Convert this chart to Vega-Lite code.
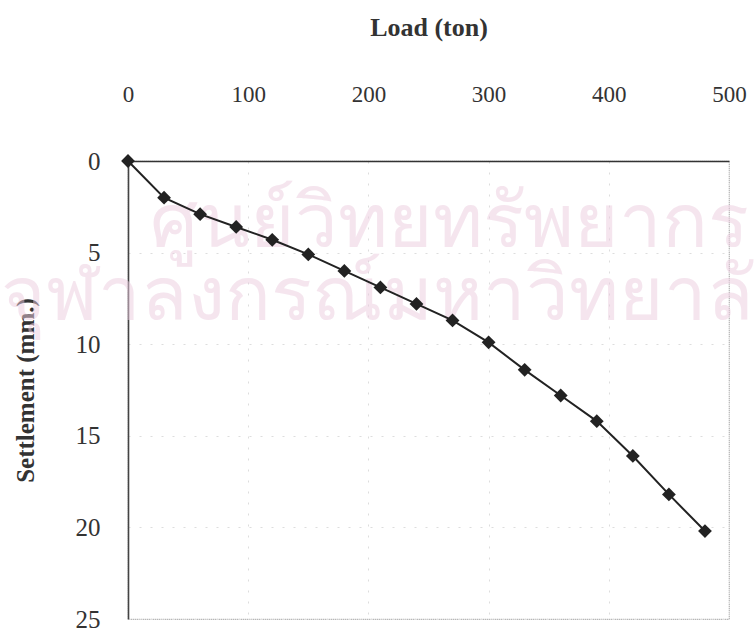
{
  "$schema": "https://vega.github.io/schema/vega-lite/v6.json",
  "autosize": {"type": "none"},
  "width": 601,
  "height": 458,
  "padding": {"left": 128, "top": 161, "right": 25, "bottom": 14},
  "background": "#ffffff",
  "config": {
    "font": "Liberation Serif",
    "view": {"stroke": "#9a9a9a", "strokeWidth": 1.2, "strokeDash": [1, 1]}
  },
  "datasets": {
    "loadtest": [
      {"load": 0, "settlement": 0.0},
      {"load": 30, "settlement": 2.0},
      {"load": 60, "settlement": 2.9},
      {"load": 90, "settlement": 3.6},
      {"load": 120, "settlement": 4.3},
      {"load": 150, "settlement": 5.1},
      {"load": 180, "settlement": 6.0},
      {"load": 210, "settlement": 6.9},
      {"load": 240, "settlement": 7.8},
      {"load": 270, "settlement": 8.7},
      {"load": 300, "settlement": 9.9},
      {"load": 330, "settlement": 11.4},
      {"load": 360, "settlement": 12.8},
      {"load": 390, "settlement": 14.2},
      {"load": 420, "settlement": 16.1},
      {"load": 450, "settlement": 18.2},
      {"load": 480, "settlement": 20.2}
    ],
    "stamp": [
      {"load": 18, "settlement": 4.7, "text": "ศูนย์วิทยทรัพยากร"},
      {"load": -106, "settlement": 8.7, "text": "จุฬาลงกรณ์มหาวิทยาลัย"}
    ]
  },
  "layer": [
    {
      "data": {"name": "stamp"},
      "mark": {
        "type": "text",
        "align": "left",
        "baseline": "alphabetic",
        "fontSize": 76,
        "font": "Noto Sans",
        "color": "#ecccdf",
        "opacity": 0.5,
        "clip": false
      },
      "encoding": {
        "x": {"field": "load", "type": "quantitative", "scale": {"domain": [0, 500]}},
        "y": {"field": "settlement", "type": "quantitative", "scale": {"domain": [0, 25], "reverse": true}},
        "text": {"field": "text"}
      }
    },
    {
      "data": {"name": "loadtest"},
      "mark": {"type": "line", "color": "#222222", "strokeWidth": 2},
      "encoding": {
        "x": {
          "field": "load",
          "type": "quantitative",
          "scale": {"domain": [0, 500], "nice": false, "zero": true},
          "axis": {
            "orient": "top",
            "title": "Load (ton)",
            "values": [0, 100, 200, 300, 400, 500],
            "ticks": false,
            "grid": true,
            "gridColor": "#dddddd",
            "gridDash": [2, 9],
            "gridWidth": 1,
            "domainColor": "#333333",
            "domainWidth": 1.6,
            "labelFont": "Liberation Serif",
            "labelFontSize": 23,
            "labelColor": "#333333",
            "labelPadding": 55,
            "labelFlush": false,
            "titleFont": "Liberation Serif",
            "titleFontSize": 26,
            "titleFontWeight": "bold",
            "titleColor": "#333333",
            "titleY": -134,
            "titleBaseline": "middle"
          }
        },
        "y": {
          "field": "settlement",
          "type": "quantitative",
          "scale": {"domain": [0, 25], "reverse": true, "nice": false},
          "axis": {
            "title": "Settlement (mm.)",
            "values": [0, 5, 10, 15, 20, 25],
            "ticks": false,
            "grid": true,
            "gridColor": "#dddddd",
            "gridDash": [2, 9],
            "gridWidth": 1,
            "domainColor": "#444444",
            "domainWidth": 1.6,
            "labelFont": "Liberation Serif",
            "labelFontSize": 25,
            "labelColor": "#333333",
            "labelPadding": 28,
            "labelFlush": false,
            "titleFont": "Liberation Serif",
            "titleFontSize": 25,
            "titleFontWeight": "bold",
            "titleColor": "#333333",
            "titleX": -103,
            "titleBaseline": "middle"
          }
        }
      }
    },
    {
      "data": {"name": "loadtest"},
      "mark": {"type": "point", "shape": "diamond", "filled": true, "color": "#222222", "size": 190, "opacity": 1},
      "encoding": {
        "x": {"field": "load", "type": "quantitative"},
        "y": {"field": "settlement", "type": "quantitative"}
      }
    }
  ]
}
